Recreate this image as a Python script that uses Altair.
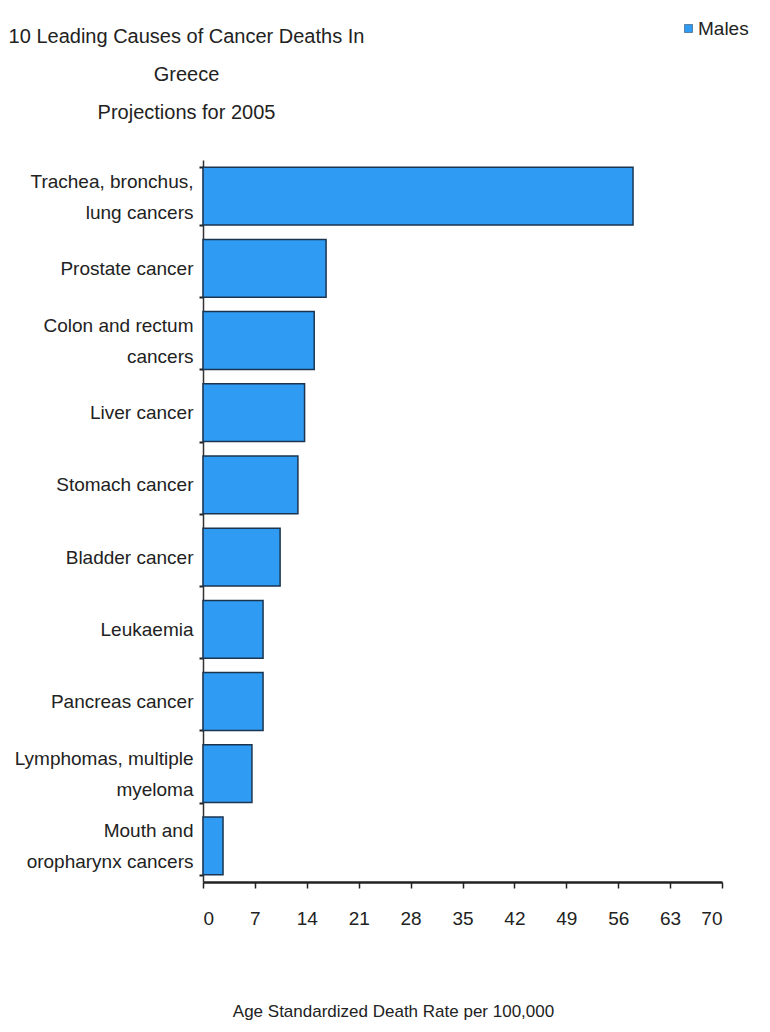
import altair as alt
import pandas as pd

categories = [
    "Trachea, bronchus,|lung cancers",
    "Prostate cancer",
    "Colon and rectum|cancers",
    "Liver cancer",
    "Stomach cancer",
    "Bladder cancer",
    "Leukaemia",
    "Pancreas cancer",
    "Lymphomas, multiple|myeloma",
    "Mouth and|oropharynx cancers",
]
values = [58.0, 16.6, 15.0, 13.7, 12.8, 10.4, 8.1, 8.1, 6.6, 2.7]
series = ["Males"] * len(categories)
x_ticks = [0, 7, 14, 21, 28, 35, 42, 49, 56, 63, 70]

df = pd.DataFrame({"cause": categories, "rate": values, "sex": series})

FONT = "Liberation Sans, Arial, sans-serif"
BLUE = "#2f9bf2"
TXT = "#222222"

chart = alt.Chart(df).mark_bar(
    stroke="#1b3550", strokeWidth=1.5
).encode(
    y=alt.Y("cause:N", sort=categories,
            scale=alt.Scale(paddingInner=0.2, paddingOuter=0.1),
            axis=alt.Axis(title=None,
                          labelExpr="datum.value ? split(datum.value, '|') : ''",
                          labelOffset={"condition": {"test": "datum.value && indexof(datum.value, '|') >= 0",
                                                     "value": -15},
                                       "value": 0},
                          labelFont=FONT, labelFontSize=19, labelColor=TXT,
                          labelLineHeight=31, labelPadding=6,
                          tickSize=4, tickColor=TXT, tickWidth=2, tickBand="extent",
                          domainColor="#333", domainWidth=1.5, labelLimit=250)),
    x=alt.X("rate:Q", scale=alt.Scale(domain=[0, 70], nice=False),
            axis=alt.Axis(values=x_ticks, title="Age Standardized Death Rate per 100,000",
                          labelFont=FONT, labelFontSize=19, labelColor=TXT,
                          labelPadding=21, tickSize=6, tickColor=TXT, tickWidth=1.5,
                          domainColor=TXT, domainWidth=2.5, grid=False,
                          titleFont=FONT, titleFontSize=17, titleFontWeight="normal",
                          titleColor=TXT, titlePadding=75, titleX=190, titleAlign="center")),
    color=alt.Color("sex:N", scale=alt.Scale(domain=["Males"], range=[BLUE]),
                    legend=alt.Legend(title=None, orient="none", legendX=476, legendY=-141,
                                      symbolType="square", symbolSize=64,
                                      symbolStrokeColor="#1b3550", symbolStrokeWidth=0.5,
                                      labelFont=FONT, labelFontSize=19, labelColor=TXT,
                                      labelOffset=0)),
).properties(
    width=519,
    height=722,
    padding={"left": 203, "top": 160, "right": 48, "bottom": 150},
    autosize=alt.AutoSizeParams(type="none"),
    title=alt.TitleParams(
        text=["10 Leading Causes of Cancer Deaths In", "Greece", "Projections for 2005"],
        font=FONT, fontSize=20, fontWeight="normal", color=TXT,
        lineHeight=38, anchor="middle", baseline="bottom", dx=-276, offset=-124,
    ),
).configure_view(stroke=None)

chart.save("out.html", embed_options={"renderer": "svg", "actions": False})
